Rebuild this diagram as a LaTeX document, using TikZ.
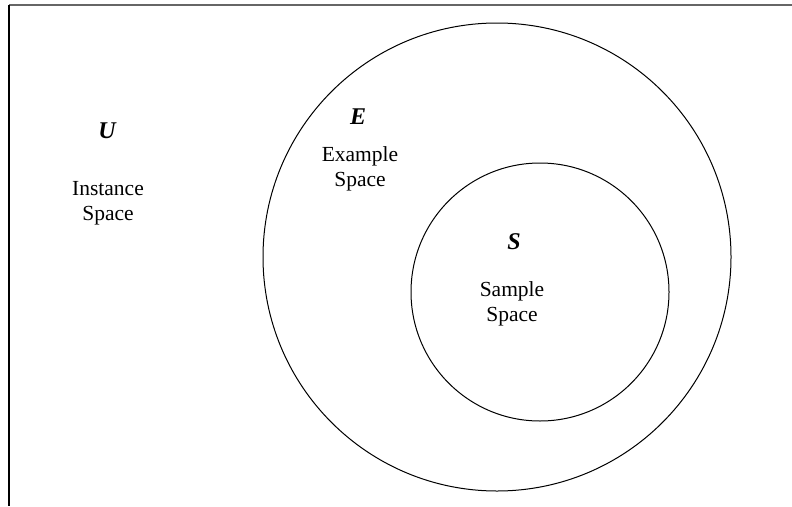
\documentclass[tikz,border=0pt]{standalone}
\usepackage{fontspec}
\setmainfont{Liberation Serif}
\begin{document}
\begin{tikzpicture}[x=1pt,y=1pt,
  setlabel/.style={font=\fontsize{24}{28}\selectfont\bfseries\itshape, inner sep=0pt},
  setname/.style={font=\fontsize{21.5}{24.5}\selectfont, align=center, inner sep=0pt},
  setcircle/.style={draw=black, line width=1pt}]
\useasboundingbox (0,0) rectangle (792,-506);
% frame lines
\coordinate (tl) at (9,-5);
\coordinate (tr) at (792,-5);
\coordinate (bl) at (9,-506);
\draw[draw=gray!80!black, line width=1.2pt] (tl) -- (tr);
\draw[draw=black, line width=1.2pt] (tl) -- (bl);
% circles
\node[setcircle, circle, minimum size=468pt, inner sep=0pt] (E) at (497,-257) {};
\node[setcircle, circle, minimum size=258pt, inner sep=0pt] (S) at (540,-292) {};
% labels
\node[setlabel] (Ulab) at (107,-131) {U};
\node[setname] (Utext) at (108,-203) {Instance\\Space};
\node[setlabel] (Elab) at (358,-117) {E};
\node[setname] (Etext) at (360,-169) {Example\\Space};
\node[setlabel] (Slab) at (514,-242) {S};
\node[setname] (Stext) at (512,-304) {Sample\\Space};
\end{tikzpicture}
\end{document}
